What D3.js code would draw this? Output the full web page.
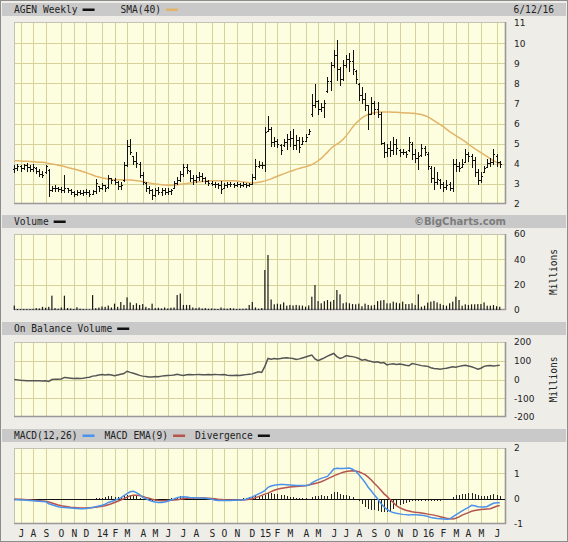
<!DOCTYPE html>
<html>
<head>
<meta charset="utf-8">
<script src="https://cdn.jsdelivr.net/npm/d3@7"></script>
<style>
  body { margin: 0; background: #fff; }
  svg { display: block; }
</style>
</head>
<body>
<div id="chart-area"></div>
<script>
// Weekly data, first week starts Monday 6/17/13
const startMonday = new Date(2013, 5, 17);

const monthLabels = ["J","A","S","O","N","D","14","F","M","A","M","J",
                     "J","A","S","O","N","D","15","F","M","A","M","J",
                     "J","A","S","O","N","D","16","F","M","A","M","J"];

const priceTicks = [2, 3, 4, 5, 6, 7, 8, 9, 10, 11];
const volTicks = [0, 20, 40, 60];
const obvTicks = [-200, -100, 0, 100, 200];
const macdTicks = [-1, 0, 1, 2];

const highs = [3.92,3.98,3.92,3.98,4.06,3.92,3.98,3.82,3.72,3.64,3.92,3.75,2.90,2.92,2.86,2.86,3.45,2.82,2.75,2.65,
  2.68,2.68,2.68,2.73,2.68,2.72,3.22,2.90,3.05,2.90,3.45,3.30,3.28,3.15,3.08,4.07,5.18,5.23,4.40,4.57,
  4.07,3.57,3.07,2.90,2.73,2.78,2.85,2.78,2.78,2.78,2.75,3.15,3.35,3.62,3.98,4.00,3.70,3.45,3.45,3.57,
  3.55,3.35,3.18,3.15,3.10,3.05,3.15,3.05,3.10,3.08,3.05,3.08,3.05,3.08,3.02,3.05,3.48,4.23,4.15,4.10,
  5.82,6.40,5.82,5.32,5.25,4.98,5.23,5.48,5.65,5.73,5.45,5.32,5.32,5.48,5.73,7.48,7.98,7.15,7.00,7.15,
  8.32,9.07,9.65,10.15,8.82,9.15,9.40,9.50,9.65,8.65,8.00,7.82,7.50,6.90,7.30,7.10,7.07,6.57,5.07,5.00,
  5.15,5.32,5.25,4.73,4.73,4.65,5.32,5.07,4.73,4.57,4.98,4.90,4.57,3.90,3.82,3.57,3.23,3.07,3.18,3.10,
  4.23,4.23,4.10,4.23,4.73,4.60,4.48,4.32,3.73,3.57,3.90,4.23,4.30,4.73,4.48,4.15];

const lows = [3.60,3.68,3.66,3.72,3.66,3.65,3.66,3.55,3.40,3.32,3.56,2.40,2.65,2.66,2.66,2.62,2.60,2.58,2.50,2.42,
  2.45,2.48,2.45,2.48,2.42,2.50,2.57,2.65,2.75,2.65,2.82,3.05,2.98,2.75,2.75,3.15,3.90,4.48,3.98,3.82,
  3.32,2.98,2.65,2.57,2.23,2.40,2.52,2.45,2.52,2.52,2.48,2.78,2.98,3.15,3.40,3.55,3.15,2.98,3.10,3.18,
  3.15,3.05,2.95,2.92,2.85,2.82,2.57,2.78,2.85,2.88,2.85,2.88,2.85,2.88,2.85,2.88,2.98,3.23,3.82,3.78,
  3.65,5.65,4.90,4.90,4.85,4.48,4.90,4.73,4.90,4.73,4.75,4.57,4.98,5.15,5.48,6.40,6.82,6.48,6.60,6.32,
  7.57,7.65,8.82,8.15,7.90,8.15,8.82,8.60,8.48,8.00,7.15,7.00,6.65,5.73,6.50,6.50,6.32,4.98,4.32,4.40,
  4.40,4.48,4.50,4.40,4.48,4.32,4.65,4.23,4.07,3.73,4.40,4.45,3.73,3.07,2.73,2.98,2.82,2.65,2.73,2.70,
  2.65,3.65,3.65,3.82,4.07,4.15,3.82,3.40,2.98,3.07,3.57,3.82,3.90,3.98,3.90,3.82];

const opens = [3.75,3.80,3.90,3.78,3.92,3.86,3.75,3.80,3.62,3.50,3.60,3.70,2.72,2.78,2.80,2.75,2.70,2.78,2.70,2.62,
  2.52,2.58,2.55,2.60,2.62,2.52,2.65,2.88,2.78,2.95,2.85,3.30,3.20,3.10,2.88,3.20,3.95,4.90,4.40,4.15,
  4.00,3.45,3.05,2.80,2.70,2.45,2.70,2.62,2.70,2.60,2.65,2.80,3.05,3.20,3.50,3.85,3.65,3.30,3.20,3.35,
  3.40,3.30,3.15,3.05,3.00,2.98,2.92,2.80,2.95,3.00,2.98,2.95,3.00,2.95,3.00,2.95,3.00,3.35,3.90,3.95,
  3.95,5.65,5.75,5.10,5.15,4.95,4.92,5.10,5.25,5.30,4.95,5.20,5.00,5.15,5.50,6.50,6.90,7.10,6.70,6.80,
  7.60,8.10,8.90,9.40,8.70,8.20,8.90,9.20,9.10,8.60,7.95,7.40,7.20,6.90,6.50,7.00,6.70,6.50,5.05,4.60,
  4.80,4.70,5.00,4.70,4.60,4.60,4.70,5.00,4.50,4.30,4.45,4.80,4.50,3.80,3.30,3.10,3.20,3.00,2.85,3.00,
  2.80,4.00,3.90,3.85,4.10,4.50,4.40,4.20,3.60,3.20,3.60,3.85,4.05,4.10,4.40,4.10];

const closes = [3.80,3.90,3.78,3.92,3.86,3.75,3.82,3.62,3.50,3.45,3.88,2.70,2.78,2.80,2.75,2.72,2.78,2.70,2.62,2.52,
  2.58,2.55,2.60,2.62,2.50,2.65,3.05,2.78,2.95,2.80,3.30,3.20,3.10,2.88,2.95,3.95,4.90,4.60,4.15,4.05,
  3.45,3.10,2.80,2.70,2.45,2.70,2.62,2.70,2.60,2.65,2.70,3.05,3.20,3.50,3.85,3.70,3.30,3.20,3.35,3.40,
  3.30,3.15,3.05,3.00,2.98,2.92,2.75,2.95,3.00,2.98,2.95,3.00,2.95,3.00,2.95,3.00,3.35,3.90,3.95,3.95,
  5.60,5.75,5.10,5.15,5.00,4.70,5.10,5.25,5.30,4.95,5.20,4.85,5.15,5.35,5.65,6.90,7.10,6.70,6.80,7.00,
  8.10,8.90,9.40,8.70,8.20,8.90,9.20,9.10,8.70,8.20,7.40,7.20,6.90,6.50,7.00,6.70,6.50,5.05,4.60,4.80,
  4.70,5.00,4.80,4.60,4.60,4.50,5.10,4.50,4.30,4.40,4.80,4.60,3.90,3.30,3.10,3.25,3.00,2.85,2.95,2.80,
  4.00,3.90,3.80,4.00,4.50,4.40,4.20,3.60,3.20,3.40,3.80,4.05,4.10,4.50,4.10,4.00];

const sma40 = [4.15,4.15,4.14,4.13,4.12,4.11,4.10,4.09,4.08,4.07,4.05,4.02,3.99,3.96,3.93,3.90,3.86,3.82,3.78,3.74,
  3.70,3.65,3.60,3.55,3.50,3.44,3.38,3.34,3.30,3.27,3.24,3.22,3.21,3.20,3.20,3.19,3.19,3.19,3.18,3.16,
  3.14,3.11,3.08,3.05,3.02,3.00,2.98,2.96,2.94,2.93,2.93,2.94,2.96,2.98,3.00,3.02,3.05,3.07,3.09,3.11,
  3.12,3.13,3.14,3.15,3.15,3.15,3.15,3.15,3.15,3.15,3.15,3.14,3.12,3.10,3.08,3.06,3.05,3.06,3.08,3.11,
  3.15,3.20,3.25,3.32,3.38,3.44,3.50,3.56,3.62,3.67,3.72,3.77,3.81,3.85,3.90,3.96,4.04,4.15,4.27,4.42,
  4.58,4.75,4.88,4.98,5.08,5.22,5.40,5.60,5.82,6.00,6.15,6.28,6.38,6.45,6.50,6.54,6.56,6.58,6.58,6.57,
  6.57,6.56,6.56,6.55,6.54,6.53,6.52,6.51,6.50,6.48,6.45,6.40,6.34,6.25,6.15,6.05,5.95,5.85,5.72,5.60,
  5.50,5.40,5.30,5.20,5.10,4.98,4.86,4.75,4.65,4.55,4.45,4.35,4.25,4.15,4.07,4.00];

// Volume, millions of shares
const volumes = [3.5,0.8,0.7,0.8,0.7,0.8,0.9,1.5,1.2,2.5,1.8,2.5,11.3,1.5,1.0,2.0,11.3,1.6,1.2,0.8,
  2.2,1.0,0.8,0.6,0.5,11.8,1.5,2.0,2.8,2.5,3.5,2.0,5.0,2.5,6.3,4.0,10.0,6.0,4.0,5.3,
  4.0,4.7,2.5,1.5,5.0,1.5,1.8,1.2,2.0,1.2,1.8,2.0,11.8,13.0,4.0,4.0,4.0,2.0,1.5,2.0,
  1.2,1.5,1.0,1.2,1.0,0.8,2.0,1.2,1.0,1.5,1.2,0.8,1.0,1.0,1.2,4.0,6.3,2.0,1.0,1.5,
  31.6,43.4,8.3,4.5,5.0,4.5,6.0,3.4,4.0,3.6,4.0,3.6,3.5,2.6,3.6,10.5,19.7,7.0,5.3,7.0,
  7.9,6.6,7.9,15.8,12.4,5.3,6.0,5.3,4.7,4.5,5.0,3.0,5.0,4.0,3.5,4.0,7.0,7.5,7.9,5.3,
  5.3,6.6,5.8,5.3,6.6,4.7,4.7,5.3,4.0,12.4,2.6,3.4,5.8,6.6,7.2,6.0,4.9,3.9,3.4,5.3,
  6.6,10.5,7.9,3.4,4.5,4.0,4.5,4.5,4.7,4.7,6.0,3.4,3.4,3.9,3.0,2.6];

// On Balance Volume, millions
const obv = [0,-2,-4,-5,-6,-6,-7,-7,-7,-8,-7,-10,0,1,1,3,11,9,7,5,
  7,6,7,10,12,18,20,24,26,24,26,24,20,24,28,32,44,38,33,28,
  22,18,16,14,14,16,15,18,20,21,22,24,28,24,22,25,26,25,26,27,
  26,26,27,26,27,26,25,26,23,22,22,23,22,24,26,28,30,36,41,38,
  70,112,108,112,110,112,115,116,114,112,107,110,115,120,125,130,110,100,108,115,
  125,132,139,122,112,118,128,124,122,118,112,103,106,100,96,92,95,88,90,78,
  82,84,80,83,80,76,73,85,82,78,74,72,70,63,59,57,55,58,60,64,
  68,66,70,73,76,72,68,62,55,60,70,73,75,72,74,76];

const macd = [-0.04,-0.04,-0.05,-0.05,-0.06,-0.07,-0.08,-0.09,-0.10,-0.11,-0.12,-0.20,-0.24,-0.28,-0.32,-0.34,-0.35,-0.36,-0.37,-0.38,
  -0.39,-0.40,-0.40,-0.39,-0.37,-0.35,-0.32,-0.29,-0.26,-0.22,-0.15,-0.11,-0.07,-0.02,0.03,0.12,0.20,0.27,0.29,0.24,
  0.16,0.05,0.00,-0.06,-0.10,-0.13,-0.15,-0.15,-0.13,-0.10,-0.05,-0.01,0.04,0.07,0.08,0.07,0.05,0.04,0.03,0.03,
  0.03,0.02,0.00,-0.02,-0.05,-0.07,-0.07,-0.07,-0.07,-0.07,-0.06,-0.06,-0.05,-0.04,-0.02,0.03,0.07,0.13,0.19,0.25,
  0.32,0.45,0.50,0.53,0.55,0.56,0.56,0.55,0.54,0.53,0.52,0.52,0.52,0.52,0.53,0.62,0.69,0.75,0.80,0.84,
  0.88,1.02,1.17,1.20,1.19,1.19,1.20,1.21,1.16,1.08,0.95,0.80,0.64,0.45,0.30,0.14,0.00,-0.18,-0.32,-0.42,
  -0.50,-0.55,-0.58,-0.60,-0.62,-0.63,-0.64,-0.63,-0.63,-0.64,-0.65,-0.67,-0.70,-0.74,-0.76,-0.78,-0.79,-0.80,-0.81,-0.80,
  -0.72,-0.64,-0.56,-0.48,-0.41,-0.34,-0.26,-0.28,-0.32,-0.33,-0.33,-0.31,-0.24,-0.18,-0.16,-0.16];

const macdSignal = [-0.01,-0.02,-0.02,-0.03,-0.04,-0.05,-0.06,-0.07,-0.08,-0.09,-0.10,-0.13,-0.17,-0.21,-0.25,-0.28,-0.30,-0.32,-0.34,-0.35,
  -0.36,-0.37,-0.37,-0.37,-0.36,-0.35,-0.34,-0.32,-0.30,-0.28,-0.24,-0.20,-0.15,-0.10,-0.05,0.00,0.06,0.11,0.13,0.13,
  0.12,0.09,0.05,0.02,-0.02,-0.05,-0.07,-0.08,-0.08,-0.07,-0.06,-0.05,-0.04,-0.02,0.00,0.02,0.03,0.03,0.03,0.03,
  0.03,0.03,0.02,0.01,0.00,-0.02,-0.03,-0.04,-0.05,-0.05,-0.05,-0.05,-0.05,-0.05,-0.04,-0.02,0.00,0.04,0.08,0.13,
  0.18,0.22,0.28,0.33,0.37,0.40,0.42,0.44,0.46,0.47,0.48,0.49,0.50,0.51,0.54,0.57,0.60,0.63,0.67,0.72,
  0.78,0.84,0.90,0.95,1.00,1.04,1.07,1.09,1.10,1.09,1.06,1.01,0.95,0.85,0.74,0.60,0.48,0.34,0.20,0.09,
  -0.03,-0.15,-0.28,-0.35,-0.41,-0.46,-0.49,-0.52,-0.54,-0.55,-0.57,-0.59,-0.61,-0.63,-0.65,-0.68,-0.71,-0.74,-0.77,-0.79,
  -0.80,-0.77,-0.72,-0.65,-0.60,-0.55,-0.50,-0.47,-0.45,-0.43,-0.42,-0.41,-0.40,-0.35,-0.30,-0.27];

const divergence = [-0.03,-0.02,-0.03,-0.02,-0.02,-0.02,-0.02,-0.02,-0.02,-0.02,-0.02,-0.07,-0.07,-0.07,-0.07,-0.06,-0.05,-0.04,-0.03,-0.03,
  -0.03,-0.03,-0.03,-0.02,-0.01,0.00,0.02,0.03,0.04,0.06,0.09,0.09,0.08,0.08,0.08,0.12,0.14,0.16,0.16,0.11,
  0.04,-0.04,-0.05,-0.08,-0.08,-0.08,-0.08,-0.07,-0.05,-0.03,0.01,0.04,0.08,0.09,0.08,0.05,0.02,0.01,0.00,0.00,
  0.00,-0.01,-0.02,-0.03,-0.05,-0.05,-0.04,-0.03,-0.02,-0.02,-0.01,-0.01,0.00,0.01,0.02,0.05,0.07,0.09,0.11,0.12,
  0.14,0.23,0.22,0.20,0.18,0.16,0.14,0.11,0.08,0.06,0.04,0.03,0.02,0.01,-0.01,0.05,0.09,0.12,0.13,0.12,
  0.10,0.18,0.27,0.25,0.19,0.15,0.13,0.12,0.06,-0.01,-0.11,-0.21,-0.31,-0.40,-0.44,-0.46,-0.48,-0.52,-0.52,-0.51,
  -0.47,-0.40,-0.30,-0.25,-0.21,-0.17,-0.15,-0.11,-0.09,-0.09,-0.08,-0.08,-0.09,-0.11,-0.11,-0.10,-0.08,-0.06,-0.04,-0.01,
  0.08,0.13,0.16,0.17,0.19,0.21,0.24,0.19,0.13,0.10,0.09,0.10,0.16,0.17,0.14,0.11];

// Lienzo
const W = 568, H = 542;
const plotLeft = 14, plotRight = 506;
const labelX = 514;

const colors = {
  bg: "#eeede8", header: "#c9c9c9", plot: "#fdfddf", grid: "#d6d29c",
  sma: "#e2b468", macd: "#4a92ea", signal: "#b5544e", obv: "#555"
};

const svg = d3.select("#chart-area")
  .append("svg")
  .attr("width", W)
  .attr("height", H)
  .style("font-family", "'DejaVu Sans Mono', monospace");

svg.append("rect")
  .attr("width", W).attr("height", H)
  .attr("fill", colors.bg);

svg.append("rect")
  .attr("x", 0.5).attr("y", 0.5)
  .attr("width", W - 1).attr("height", H - 1)
  .attr("fill", "none").attr("stroke", "#8c8c8c");

// Semanas y meses
const weeks = highs.map((_, i) => d3.timeDay.offset(startMonday, i * 7));
const monthIdx = weeks.map((d, i) => i)
  .filter(i => d3.timeDay.offset(weeks[i], 6).getDate() <= 7);

const x = d3.scaleLinear()
  .domain([-0.1, 157])
  .range([plotLeft, plotRight]);

const px = i => Math.round(x(i)) + 0.5;

// Cabeceras de paneles
function header(top, items, rightText) {
  svg.append("rect")
    .attr("x", 2).attr("y", top)
    .attr("width", W - 4).attr("height", 13)
    .attr("fill", colors.header);

  let cx = 14;
  items.forEach(it => {
    const t = svg.append("text")
      .attr("x", cx).attr("y", top + 9.8)
      .attr("font-size", 9.6)
      .attr("fill", "#222")
      .text(it.label);
    const w = t.node().getComputedTextLength();
    svg.append("rect")
      .attr("x", cx + w + 5).attr("y", top + 5.5)
      .attr("width", 12).attr("height", 2.5)
      .attr("fill", it.color);
    cx += w + 5 + 12 + (it.gap || 10);
  });

  if (rightText) {
    svg.append("text")
      .attr("x", rightText.x).attr("y", top + 9.8)
      .attr("text-anchor", "end")
      .attr("font-size", rightText.size || 9.6)
      .attr("font-family", rightText.font || null)
      .attr("font-weight", rightText.weight || null)
      .attr("fill", rightText.color || "#222")
      .text(rightText.text);
  }
}

// Panel con fondo, rejilla y eje derecho
function panel(top, bottom, domain, ticks, gridTicks, millions) {
  const y = d3.scaleLinear().domain(domain).range([bottom, top]);
  const g = svg.append("g");

  g.append("rect")
    .attr("x", plotLeft).attr("y", top)
    .attr("width", plotRight - plotLeft).attr("height", bottom - top)
    .attr("fill", colors.plot);

  g.selectAll(".vgrid")
    .data(monthIdx)
    .enter().append("line")
    .attr("x1", px).attr("x2", px)
    .attr("y1", top).attr("y2", bottom)
    .attr("stroke", colors.grid)
    .attr("shape-rendering", "crispEdges");

  g.selectAll(".hgrid")
    .data(gridTicks)
    .enter().append("line")
    .attr("x1", plotLeft).attr("x2", plotRight)
    .attr("y1", d => Math.round(y(d)) + 0.5)
    .attr("y2", d => Math.round(y(d)) + 0.5)
    .attr("stroke", colors.grid)
    .attr("shape-rendering", "crispEdges");

  g.append("rect")
    .attr("x", plotLeft + 0.5).attr("y", top + 0.5)
    .attr("width", plotRight - plotLeft - 1).attr("height", bottom - top - 1)
    .attr("fill", "none").attr("stroke", "#c4c2b0")
    .attr("shape-rendering", "crispEdges");
  g.append("path")
    .attr("d", `M${plotLeft},${bottom - 0.5}H${plotRight - 0.5}V${top}`)
    .attr("fill", "none").attr("stroke", "#999")
    .attr("stroke-width", 1.6);

  const axis = d3.axisRight(y)
    .tickValues(ticks)
    .tickFormat(d => String(d))
    .tickSize(0)
    .tickPadding(0);
  const ax = svg.append("g")
    .attr("transform", `translate(${labelX},0)`)
    .call(axis);
  ax.select(".domain").remove();
  ax.selectAll("text")
    .attr("font-family", "'DejaVu Sans', sans-serif")
    .attr("font-size", 9)
    .attr("fill", "#222");

  if (millions) {
    svg.append("text")
      .attr("transform", `translate(557,${(top + bottom) / 2}) rotate(-90)`)
      .attr("text-anchor", "middle")
      .attr("font-size", 9.6)
      .attr("fill", "#222")
      .text("Millions");
  }
  return y;
}

// Precio
header(3, [{label: "AGEN Weekly", color: "#111", gap: 26}, {label: "SMA(40)", color: colors.sma}],
  {x: 554, text: "6/12/16"});
const yPrice = panel(22, 204, [2, 11.05], priceTicks, priceTicks.slice(1, -1), false);

const sma = d3.line()
  .x((d, i) => x(i))
  .y(d => yPrice(d));

svg.append("path")
  .datum(sma40)
  .attr("d", sma)
  .attr("fill", "none")
  .attr("stroke", colors.sma)
  .attr("stroke-width", 1.5);

const ry = v => Math.round(yPrice(v)) + 0.5;
svg.append("g")
  .selectAll("path")
  .data(highs)
  .enter().append("path")
  .attr("d", (h, i) => {
    const xx = px(i);
    return `M${xx},${ry(h) - 0.5}V${ry(lows[i]) + 0.5}` +
      `M${xx - 1.5},${ry(opens[i])}H${xx}` +
      `M${xx},${ry(closes[i])}H${xx + 1.5}`;
  })
  .attr("stroke", "#111")
  .attr("fill", "none")
  .attr("shape-rendering", "crispEdges");

// Volumen
header(215, [{label: "Volume", color: "#111"}],
  {x: 506, text: "\u00a9BigCharts.com", font: "'DejaVu Sans', sans-serif", weight: "bold", size: 10, color: "#7c7c7c"});
const yVol = panel(234, 310, [0, 60], volTicks, [20, 40], true);

svg.append("g")
  .selectAll("rect")
  .data(volumes)
  .enter().append("rect")
  .attr("x", (d, i) => x(i) - 0.6)
  .attr("width", 1.2)
  .attr("y", d => yVol(d))
  .attr("height", d => yVol(0) - yVol(d))
  .attr("fill", "#1a1a1a");

// On Balance Volume
header(322, [{label: "On Balance Volume", color: "#111"}]);
const yObv = panel(342, 417, [-200, 200], obvTicks, [-100, 0, 100], true);

svg.append("path")
  .datum(obv)
  .attr("d", d3.line().x((d, i) => x(i)).y(d => yObv(d)))
  .attr("fill", "none")
  .attr("stroke", colors.obv)
  .attr("stroke-width", 1.5);

// MACD
header(429, [
  {label: "MACD(12,26)", color: colors.macd},
  {label: "MACD EMA(9)", color: colors.signal},
  {label: "Divergence", color: "#111"}
]);
const yMacd = panel(448, 524, [-1, 2], macdTicks, [1], false);

svg.append("g")
  .selectAll("line")
  .data(divergence)
  .enter().append("line")
  .attr("x1", (d, i) => px(i)).attr("x2", (d, i) => px(i))
  .attr("y1", yMacd(0))
  .attr("y2", d => yMacd(d))
  .attr("stroke", "#222")
  .attr("shape-rendering", "crispEdges");

svg.append("line")
  .attr("x1", plotLeft).attr("x2", plotRight - 1)
  .attr("y1", Math.round(yMacd(0)) + 0.5).attr("y2", Math.round(yMacd(0)) + 0.5)
  .attr("stroke", "#111")
  .attr("shape-rendering", "crispEdges");

const macdLine = d3.line().x((d, i) => x(i)).y(d => yMacd(d));

svg.append("path")
  .datum(macdSignal)
  .attr("d", macdLine)
  .attr("fill", "none")
  .attr("stroke", colors.signal)
  .attr("stroke-width", 1.5);

svg.append("path")
  .datum(macd)
  .attr("d", macdLine)
  .attr("fill", "none")
  .attr("stroke", colors.macd)
  .attr("stroke-width", 1.5);

// Etiquetas de meses
svg.append("g")
  .selectAll("text")
  .data(monthIdx)
  .enter().append("text")
  .attr("x", i => px(i))
  .attr("y", 537)
  .attr("text-anchor", "middle")
  .attr("font-size", 9.6)
  .attr("fill", "#222")
  .text((d, k) => monthLabels[k]);
</script>
</body>
</html>
